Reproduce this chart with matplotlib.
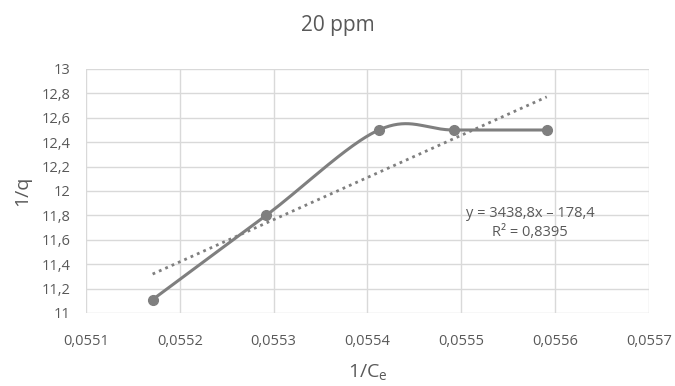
import numpy as np
import matplotlib
matplotlib.use("Agg")
import matplotlib.pyplot as plt

x_vals = [0.055171, 0.055292, 0.055412, 0.055492, 0.055591]
y_vals = [11.11, 11.80, 12.50, 12.50, 12.50]
x_ticks = [0.0551, 0.0552, 0.0553, 0.0554, 0.0555, 0.0556, 0.0557]
y_ticks = [11, 11.2, 11.4, 11.6, 11.8, 12, 12.2, 12.4, 12.6, 12.8, 13]
title = "20 ppm"
eq_text = "y = 3438,8x \u2013 178,4\nR\u00b2 = 0,8395"

plt.rcParams['font.family'] = ['Open Sans', 'DejaVu Sans']
txt = '#595959'
fig = plt.figure(figsize=(6.75, 3.86), dpi=100)
ax = fig.add_axes([86/675, 1-313/386, (649-86)/675, (313-69)/386])
ax.set_xlim(0.0551, 0.0557)
ax.set_ylim(11, 13)

# Excel-like smoothing (Bezier with control points = tangent/6) in display space
fig.canvas.draw()
pts = ax.transData.transform(np.column_stack([x_vals, y_vals]))
n = len(pts)
curve = []
for i in range(n - 1):
    p0 = pts[i - 1] if i > 0 else pts[i]
    p1 = pts[i]
    p2 = pts[i + 1]
    p3 = pts[i + 2] if i + 2 < n else pts[i + 1]
    c1 = p1 + (p2 - p0) / 6
    c2 = p2 - (p3 - p1) / 6
    t = np.linspace(0, 1, 60)[:, None]
    seg = (1-t)**3*p1 + 3*(1-t)**2*t*c1 + 3*(1-t)*t**2*c2 + t**3*p2
    curve.append(seg)
curve = np.vstack(curve)
cd = ax.transData.inverted().transform(curve)

col = '#7f7f7f'
ax.plot(cd[:, 0], cd[:, 1], color=col, lw=2.2, solid_capstyle='round', zorder=3)
ax.plot(x_vals, y_vals, 'o', color=col, ms=7, zorder=4)

coef = np.polyfit(x_vals, y_vals, 1)
xt = np.array([min(x_vals), max(x_vals)])
ax.plot(xt, np.polyval(coef, xt), color=col, lw=2, ls=(0, (1, 1.5)), zorder=3)

ax.set_xticks(x_ticks)
ax.set_yticks(y_ticks)
ax.set_xticklabels([f"{v:.4f}".replace('.', ',') for v in x_ticks])
ax.set_yticklabels([f"{v:g}".replace('.', ',') for v in y_ticks])
ax.grid(True, color='#d9d9d9', lw=1)
ax.set_axisbelow(True)
for s in ax.spines.values():
    s.set_visible(False)
ax.tick_params(length=0, colors=txt, labelsize=10.5)
ax.tick_params(axis='x', pad=15)
ax.tick_params(axis='y', pad=11)
ax.set_xlabel(r'1/C$_\mathregular{e}$', color=txt, fontsize=14, labelpad=10)
ax.set_ylabel('1/q', color=txt, fontsize=14, labelpad=8)
fig.text(338/675, 1-25/386, title, ha='center', va='center', color=txt, fontsize=15)
ax.text((530-86)/563, 1-(223-69)/244, eq_text, transform=ax.transAxes, ha='center',
        va='center', color=txt, fontsize=10.5, linespacing=1.3)
fig.savefig('out.png', dpi=100)
